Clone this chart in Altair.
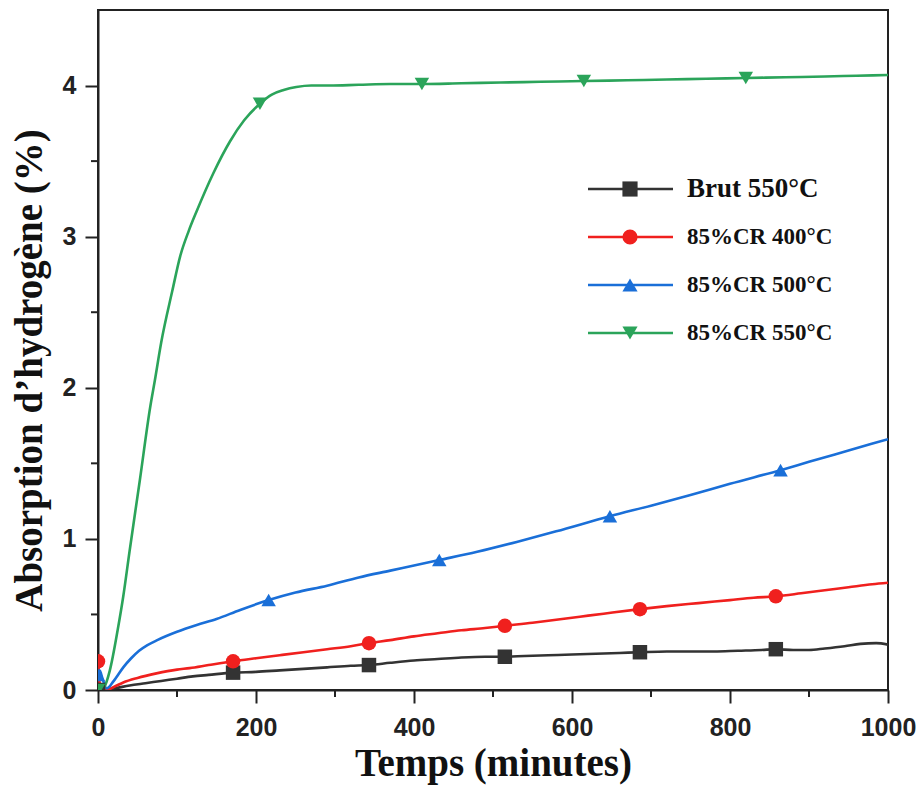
import altair as alt
import pandas as pd

# ---------------- data ----------------
series_names = ["Brut 550°C", "85%CR 400°C", "85%CR 500°C", "85%CR 550°C"]
line_colors = ["#333333", "#f0201e", "#1a6fd8", "#2ba45a"]
point_shapes = ["square", "circle", "triangle-up", "triangle-down"]

brut_t = [0, 5, 20, 40, 60, 80, 100, 120, 140, 171, 200, 230, 260, 290, 320, 343, 370, 400,
          430, 460, 490, 515, 540, 570, 600, 630, 660, 686, 720, 750, 780, 810, 840, 858, 880,
          900, 920, 945, 965, 985, 1000]
brut_v = [0.0, 0.0, 0.01, 0.03, 0.045, 0.06, 0.075, 0.09, 0.10, 0.115, 0.12, 0.13, 0.14, 0.15,
          0.16, 0.165, 0.18, 0.195, 0.205, 0.215, 0.22, 0.22, 0.225, 0.23, 0.235, 0.24, 0.245,
          0.25, 0.255, 0.255, 0.255, 0.26, 0.265, 0.27, 0.265, 0.265, 0.275, 0.29, 0.305, 0.31, 0.30]

cr400_t = [0, 2, 6, 10, 20, 32, 50, 74, 100, 116, 140, 171, 200, 230, 260, 290, 320, 343, 370,
           400, 430, 460, 490, 515, 550, 580, 610, 640, 686, 720, 760, 800, 830, 858, 890, 920,
           950, 980, 1000]
cr400_v = [0.19, 0.05, 0.0, 0.0, 0.02, 0.05, 0.08, 0.11, 0.135, 0.145, 0.165, 0.19, 0.21, 0.23,
           0.25, 0.27, 0.29, 0.31, 0.33, 0.355, 0.375, 0.395, 0.41, 0.425, 0.445, 0.465, 0.485,
           0.505, 0.535, 0.555, 0.575, 0.595, 0.61, 0.62, 0.64, 0.66, 0.68, 0.70, 0.71]

cr500_t = [0, 2, 6, 11, 20, 32, 42, 52, 62, 75, 100, 125, 150, 180, 216, 250, 290, 330, 370,
           432, 480, 530, 580, 648, 700, 750, 800, 864, 900, 950, 1000]
cr500_v = [0.10, 0.13, 0.07, 0.01, 0.06, 0.15, 0.21, 0.26, 0.295, 0.33, 0.385, 0.43, 0.47, 0.53,
           0.595, 0.645, 0.69, 0.745, 0.79, 0.86, 0.915, 0.98, 1.05, 1.15, 1.22, 1.29, 1.365,
           1.455, 1.51, 1.585, 1.66]

cr550_t = [0, 3, 8, 15, 25, 32, 40, 53, 66, 72, 80, 94, 104, 115, 125, 146, 167, 185, 205, 220,
           235, 251, 270, 293, 330, 370, 410, 460, 510, 560, 615, 670, 720, 770, 820, 870, 920,
           960, 1000]
cr550_v = [0.0, 0.0, 0.02, 0.13, 0.4, 0.62, 0.92, 1.39, 1.87, 2.05, 2.3, 2.64, 2.87, 3.04, 3.17,
           3.42, 3.63, 3.77, 3.88, 3.94, 3.97, 3.99, 4.0, 4.0, 4.005, 4.01, 4.01, 4.015, 4.02,
           4.025, 4.03, 4.035, 4.04, 4.045, 4.05, 4.055, 4.06, 4.065, 4.07]

# marker positions
brut_mt = [0, 171, 343, 515, 686, 858]
brut_mv = [0.0, 0.115, 0.165, 0.22, 0.25, 0.27]
cr400_mt = [0, 171, 343, 515, 686, 858]
cr400_mv = [0.19, 0.19, 0.31, 0.425, 0.535, 0.62]
cr500_mt = [0, 216, 432, 648, 864]
cr500_mv = [0.10, 0.595, 0.86, 1.15, 1.455]
cr550_mt = [0, 205, 410, 615, 820]
cr550_mv = [0.0, 3.88, 4.01, 4.03, 4.05]

x_ticks = [0, 200, 400, 600, 800, 1000]
x_minor = [100, 300, 500, 700, 900]
y_ticks = [0, 1, 2, 3, 4]
y_minor = [0.5, 1.5, 2.5, 3.5]

# ---------------- tables ----------------
def build(pairs):
    rows = []
    for name, ts, vs in pairs:
        rows += [{"series": name, "t": t, "v": v} for t, v in zip(ts, vs)]
    return pd.DataFrame(rows)

lines_df = build([(series_names[0], brut_t, brut_v), (series_names[1], cr400_t, cr400_v),
                  (series_names[2], cr500_t, cr500_v), (series_names[3], cr550_t, cr550_v)])
marks_df = build([(series_names[0], brut_mt, brut_mv), (series_names[1], cr400_mt, cr400_mv),
                  (series_names[2], cr500_mt, cr500_mv), (series_names[3], cr550_mt, cr550_mv)])
legend_df = pd.DataFrame({"series": series_names})
xminor_df = pd.DataFrame({"t": x_minor})
yminor_df = pd.DataFrame({"v": y_minor})

# ---------------- layout / style ----------------
W, H = 790, 680
AX = "#222222"
LEG_ROWS = [179, 323]          # pixel span of legend rows inside the plot
LEG_LINE = (490, 575)          # legend sample line, px from plot left
LEG_MARK = 532
LEG_TEXT = 589

x_scale = alt.Scale(domain=[0, 1000], nice=False, zero=False)
y_scale = alt.Scale(domain=[0, 4.5], nice=False)
color = alt.Color("series:N", scale=alt.Scale(domain=series_names, range=line_colors), legend=None)

x_enc = alt.X("t:Q", scale=x_scale,
              axis=alt.Axis(values=x_ticks, format="d", title="Temps (minutes)", labelFlush=False,
                            labelOverlap=False, labelPadding=12, titleY=85,
                            titleBaseline="alphabetic"))
y_enc = alt.Y("v:Q", scale=y_scale,
              axis=alt.Axis(values=y_ticks, format="d", title="Absorption d\u2019hydrog\u00e8ne (%)",
                            labelPadding=9, titleX=-57, titleY=360,
                            titleBaseline="alphabetic"))
y_plain = alt.Y("v:Q", scale=y_scale, axis=None)
y_leg = alt.Y("series:N", axis=None,
              scale=alt.Scale(type="point", domain=series_names, range=LEG_ROWS, padding=0))

lines = alt.Chart(lines_df).mark_line(strokeWidth=2.6, clip=True, interpolate="monotone").encode(
    x=x_enc, y=y_enc, color=color, detail="series:N", order="t:Q")

layers = [lines]
for name, shp in zip(series_names, point_shapes):
    layers.append(
        alt.Chart(marks_df).transform_filter(alt.datum.series == name)
        .mark_point(filled=True, shape=shp, size=210, opacity=1, clip=True)
        .encode(x=alt.X("t:Q", scale=x_scale), y=y_plain, color=color)
    )

# minor ticks
layers.append(alt.Chart(xminor_df).mark_rule(color=AX, strokeWidth=2).encode(
    x=alt.X("t:Q", scale=x_scale), y=alt.value(H), y2=alt.value(H + 7)))
layers.append(alt.Chart(yminor_df).mark_rule(color=AX, strokeWidth=2).encode(
    y=y_plain, x=alt.value(0), x2=alt.value(-7)))

# legend (inside the plot, top right): sample line + marker + label
layers.append(alt.Chart(legend_df).mark_rule(strokeWidth=2.6).encode(
    y=y_leg, x=alt.value(LEG_LINE[0]), x2=alt.value(LEG_LINE[1]), color=color))
for name, shp in zip(series_names, point_shapes):
    layers.append(
        alt.Chart(legend_df).transform_filter(alt.datum.series == name)
        .mark_point(filled=True, shape=shp, size=230, opacity=1)
        .encode(y=y_leg, x=alt.value(LEG_MARK), color=color)
    )
layers.append(alt.Chart(legend_df).mark_text(
    align="left", baseline="middle", font="Liberation Serif", fontWeight="bold",
    color="#111111").encode(
    y=y_leg, x=alt.value(LEG_TEXT), text="series:N",
    size=alt.condition(alt.datum.series == series_names[0], alt.value(27), alt.value(23))))

chart = alt.layer(*layers).resolve_scale(y="independent").properties(
    width=W, height=H,
    autosize=alt.AutoSizeParams(type="none"),
    padding={"left": 90, "top": 2, "right": 28, "bottom": 97},
    background="white",
).configure_view(
    stroke=AX, strokeWidth=2
).configure_axis(
    grid=False, domainColor=AX, domainWidth=2, tickColor=AX, tickWidth=2, tickSize=13,
    labelFont="Liberation Sans", labelFontSize=25, labelFontWeight="bold", labelColor=AX,
    titleFont="Liberation Serif", titleFontSize=39, titleFontWeight="bold", titleColor="#111111",
)

chart.save("out.html", embed_options={"renderer": "svg", "actions": False})
